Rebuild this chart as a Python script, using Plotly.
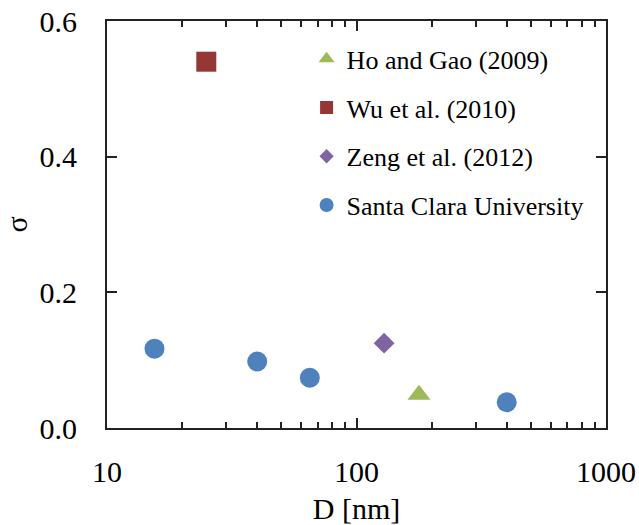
import plotly.graph_objects as go

# Data
scu_D = [15.5, 40, 65, 400]
scu_sigma = [0.117, 0.098, 0.074, 0.038]
ho_D = [178]
ho_sigma = [0.049]
wu_D = [25]
wu_sigma = [0.54]
zeng_D = [129]
zeng_sigma = [0.125]

x_tickvals = [10, 100, 1000]
x_minor = [20, 30, 40, 50, 60, 70, 80, 90, 200, 300, 400, 500, 600, 700, 800, 900]
y_tickvals = [0.0, 0.2, 0.4, 0.6]

GREEN = "#9BBB59"
RED = "#953735"
PURPLE = "#8064A2"
BLUE = "#4F81BD"
FONT = "Liberation Serif"

series = [
    ("Ho and Gao (2009)", ho_D, ho_sigma, "triangle-up", GREEN, 20, 14),
    ("Wu et al. (2010)", wu_D, wu_sigma, "square", RED, 20, 13),
    ("Zeng et al. (2012)", zeng_D, zeng_sigma, "diamond", PURPLE, 16, 11),
    ("Santa Clara University", scu_D, scu_sigma, "circle", BLUE, 20, 14),
]

fig = go.Figure()
for name, xs, ys, sym, col, size, lsize in series:
    fig.add_trace(go.Scatter(x=xs, y=ys, mode="markers", name=name,
                             marker=dict(symbol=sym, color=col, size=size, line=dict(width=0)),
                             showlegend=False))
for i, (name, xs, ys, sym, col, size, lsize) in enumerate(series):
    fig.add_trace(go.Scatter(x=[None], y=[None], mode="markers", name=name,
                             legendgroup=f"g{i}",
                             marker=dict(symbol=sym, color=col, size=lsize, line=dict(width=0)),
                             showlegend=True))

axis_common = dict(showline=True, linecolor="#222", linewidth=2, mirror="ticks",
                   ticks="inside", tickcolor="#222", tickwidth=2, ticklen=10,
                   showgrid=False, zeroline=False, automargin=False,
                   tickfont=dict(family=FONT, size=30, color="black"))

fig.update_xaxes(type="log", range=[1, 3], tickvals=x_tickvals, ticktext=[str(v) for v in x_tickvals],
                 minor=dict(ticks="inside", ticklen=6, tickwidth=2, tickcolor="#222", tickvals=x_minor),
                 title=dict(text="D [nm]", font=dict(family=FONT, size=30, color="black"), standoff=12),
                 ticklabelstandoff=16, **axis_common)
fig.update_yaxes(range=[0, 0.6], tickvals=y_tickvals, tickformat=".1f",
                 title=dict(text="σ", font=dict(family=FONT, size=30, color="black"), standoff=24),
                 ticklabelstandoff=22, **axis_common)

fig.update_layout(
    width=639, height=525,
    margin=dict(l=107, r=33, t=21, b=97),
    paper_bgcolor="white", plot_bgcolor="white",
    font=dict(family=FONT, color="black"),
    legend=dict(x=0.40, y=0.965, xanchor="left", yanchor="top",
                font=dict(family=FONT, size=26, color="black"),
                bgcolor="rgba(0,0,0,0)", tracegroupgap=12, itemwidth=30),
)

fig.write_html("out.html")
